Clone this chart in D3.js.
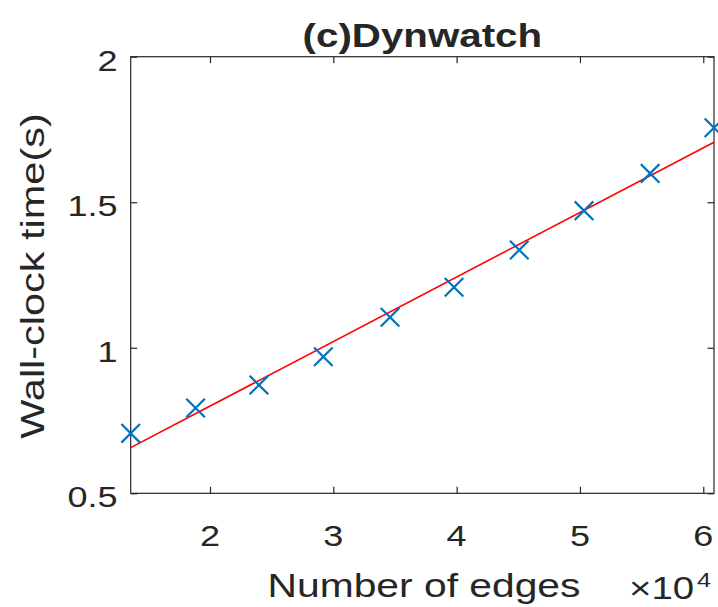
<!DOCTYPE html>
<html>
<head>
<meta charset="utf-8">
<script src="https://cdn.jsdelivr.net/npm/d3@7"></script>
<style>
  html, body { margin: 0; padding: 0; background: #fff; }
  svg { display: block; }
  text { font-family: "Liberation Sans", Arial, Helvetica, sans-serif; fill: #262626; }
</style>
</head>
<body>
<svg id="chart" width="718" height="607"></svg>
<script>
// Measured wall-clock time vs. number of edges
const edges = [13570, 18830, 23970, 29190, 34600, 39790, 45080, 50330, 55690, 60870];
const times = [0.706, 0.793, 0.872, 0.969, 1.105, 1.208, 1.336, 1.471, 1.599, 1.756];

// Linear fit line, value at first and last edge count
const fitEdges = [13570, 60870];
const fitTimes = [0.657, 1.706];

const xTicks = [20000, 30000, 40000, 50000, 60000];
const xTickLabels = ["2", "3", "4", "5", "6"];
const yTicks = [0.5, 1, 1.5, 2];
const yTickLabels = ["0.5", "1", "1.5", "2"];

const titleText = "(c)Dynwatch";
const xLabelText = "Number of edges";
const yLabelText = "Wall-clock time(s)";

const svg = d3.select("#chart");
const box = { left: 130.7, right: 714, top: 56.7, bottom: 493.3 };
const ink = "#262626";
const wide = 1.2; // horizontal stretch of the text glyphs

const x = d3.scaleLinear().domain([13570, 60870]).range([box.left, box.right]);
const y = d3.scaleLinear().domain([0.5, 2]).range([box.bottom, box.top]);

// helper: text stretched horizontally around its anchor point
function label(g, str, px, py, opts) {
  return g.append("text")
    .attr("transform", `translate(${px},${py}) scale(${opts.sx || wide},1)`)
    .attr("text-anchor", opts.anchor || "middle")
    .style("font-size", opts.size + "px")
    .style("font-weight", opts.weight || "normal")
    .text(str);
}

// axes box
svg.append("rect")
  .attr("x", box.left).attr("y", box.top)
  .attr("width", box.right - box.left).attr("height", box.bottom - box.top)
  .attr("fill", "none").attr("stroke", ink).attr("stroke-width", 1.2);

// inward ticks on all four sides
const tickLen = 6.5;
const axisBottom = d3.axisBottom(x).tickValues(xTicks).tickSize(-tickLen).tickFormat("");
const axisTop = d3.axisTop(x).tickValues(xTicks).tickSize(-tickLen).tickFormat("");
const axisLeft = d3.axisLeft(y).tickValues(yTicks).tickSize(-tickLen).tickFormat("");
const axisRight = d3.axisRight(y).tickValues(yTicks).tickSize(-tickLen).tickFormat("");

function styleAxis(g) {
  g.select(".domain").remove();
  g.selectAll(".tick line").attr("stroke", ink).attr("stroke-width", 1.2);
}
svg.append("g").attr("transform", `translate(0,${box.bottom})`).call(axisBottom).call(styleAxis);
svg.append("g").attr("transform", `translate(0,${box.top})`).call(axisTop).call(styleAxis);
svg.append("g").attr("transform", `translate(${box.left},0)`).call(axisLeft).call(styleAxis);
svg.append("g").attr("transform", `translate(${box.right},0)`).call(axisRight).call(styleAxis);

// tick labels
const labels = svg.append("g");
xTicks.forEach((v, i) => label(labels, xTickLabels[i], x(v), 545.7, { size: 30 }));
yTicks.forEach((v, i) => label(labels, yTickLabels[i], 117.5, y(v) + 14, { size: 30, anchor: "end" }));

// exponent note
label(labels, "\u00d710", 629, 599, { size: 32, anchor: "start" });
label(labels, "4", 697, 587, { size: 21, anchor: "start" });

// title and axis labels
label(svg, titleText, (box.left + box.right) / 2, 46.7, { size: 32.5, weight: "bold", sx: 1.24 });
label(svg, xLabelText, 424, 597.3, { size: 34 });
svg.append("text")
  .attr("transform", `translate(43.5,276) rotate(-90) scale(1.22,1)`)
  .attr("text-anchor", "middle")
  .style("font-size", "34px")
  .text(yLabelText);

// fit line
const line = d3.line().x(d => x(d[0])).y(d => y(d[1]));
svg.append("path")
  .datum(fitEdges.map((e, i) => [e, fitTimes[i]]))
  .attr("d", line)
  .attr("fill", "none")
  .attr("stroke", "#ff0000")
  .attr("stroke-width", 1.6);

// x markers
const r = 9.3;
const markers = svg.append("g")
  .attr("stroke", "#0072bd")
  .attr("stroke-width", 2.2)
  .attr("fill", "none");
markers.selectAll("path")
  .data(edges.map((e, i) => [e, times[i]]))
  .join("path")
  .attr("d", d => {
    const cx = x(d[0]), cy = y(d[1]);
    return `M${cx - r},${cy - r}L${cx + r},${cy + r}M${cx - r},${cy + r}L${cx + r},${cy - r}`;
  });
</script>
</body>
</html>
